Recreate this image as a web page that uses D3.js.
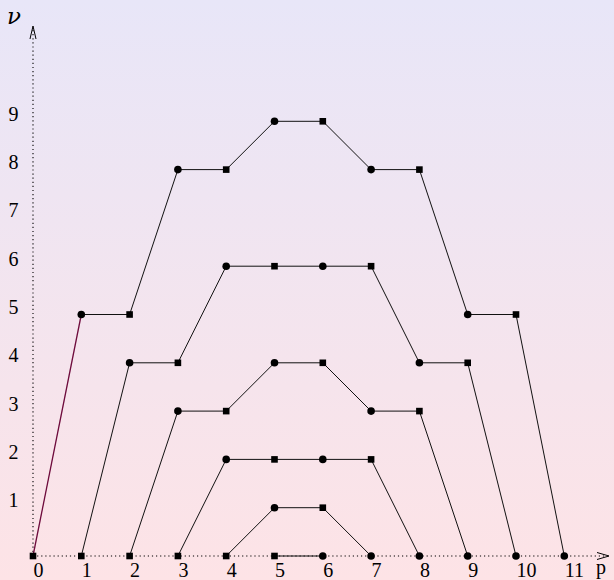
<!DOCTYPE html>
<html>
<head>
<meta charset="utf-8">
<script src="https://cdn.jsdelivr.net/npm/d3@7"></script>
<style>
  html, body { margin: 0; padding: 0; }
  svg { display: block; }
</style>
</head>
<body>
<svg id="chart" width="614" height="580"></svg>
<script>
// Tick values along each axis
const pTicks = [0, 1, 2, 3, 4, 5, 6, 7, 8, 9, 10, 11];
const nuTicks = [1, 2, 3, 4, 5, 6, 7, 8, 9];

// Each path starts at p = start and steps by 1 in p; values are ν
const path0 = { start: 0, nu: [0, 5, 5, 8, 8, 9, 9, 8, 8, 5, 5, 0] };
const path1 = { start: 1, nu: [0, 4, 4, 6, 6, 6, 6, 4, 4, 0] };
const path2 = { start: 2, nu: [0, 3, 3, 4, 4, 3, 3, 0] };
const path3 = { start: 3, nu: [0, 2, 2, 2, 2, 0] };
const path4 = { start: 4, nu: [0, 1, 1, 0] };
const path5 = { start: 5, nu: [0, 0] };
const paths = [path0, path1, path2, path3, path4, path5];

const svg = d3.select("#chart");
const W = 614, H = 580;

// background gradient, lavender above fading to pink below
const defs = svg.append("defs");
const grad = defs.append("linearGradient")
  .attr("id", "bg").attr("x1", 0).attr("y1", 0).attr("x2", 0).attr("y2", 1);
grad.append("stop").attr("offset", "0%").attr("stop-color", "#e8e6f8");
grad.append("stop").attr("offset", "100%").attr("stop-color", "#fde3e6");
svg.append("rect").attr("width", W).attr("height", H).attr("fill", "url(#bg)");

const x = d3.scaleLinear().domain([0, 11]).range([33, 564.3]);
const y = d3.scaleLinear().domain([0, 9]).range([556, 121.3]);

const serif = "'Liberation Serif', 'DejaVu Serif', serif";

// dotted axes
const ax = svg.append("g").attr("stroke", "#000").attr("fill", "none");
ax.append("line")
  .attr("x1", x(0)).attr("y1", y(0)).attr("x2", 605).attr("y2", y(0))
  .attr("stroke-width", 1.1).attr("stroke-dasharray", "1.2,2.9");
ax.append("line")
  .attr("x1", x(0)).attr("y1", y(0)).attr("x2", x(0)).attr("y2", 27)
  .attr("stroke-width", 1.1).attr("stroke-dasharray", "1.2,2.9");

// open arrowheads
ax.append("path")
  .attr("d", `M${x(0) - 3},39 L${x(0)},26 L${x(0) + 3},39`)
  .attr("stroke-width", 1);
ax.append("path")
  .attr("d", `M597,${y(0) - 3.5} L609,${y(0)} L597,${y(0) + 3.5}`)
  .attr("stroke-width", 1);

// tick labels
svg.append("g").selectAll("text").data(pTicks).join("text")
  .attr("x", d => x(d) + 0.5)
  .attr("y", 577)
  .attr("font-family", serif).attr("font-size", 20)
  .attr("text-anchor", "start")
  .text(d => d);

svg.append("g").selectAll("text").data(nuTicks).join("text")
  .attr("x", 18.5)
  .attr("y", d => y(d) - 0.5)
  .attr("font-family", serif).attr("font-size", 20)
  .attr("text-anchor", "end")
  .text(d => d);

// axis names
svg.append("text").attr("x", 596).attr("y", 574)
  .attr("font-family", serif).attr("font-size", 20).text("p");
svg.append("text").attr("x", 7).attr("y", 24)
  .attr("font-family", "'DejaVu Serif', serif").attr("font-size", 23)
  .attr("font-style", "italic").text("ν");

// segments of each path
const segs = [];
paths.forEach((pa, i) => {
  for (let k = 0; k < pa.nu.length - 1; k++) {
    segs.push({
      p0: pa.start + k, n0: pa.nu[k],
      p1: pa.start + k + 1, n1: pa.nu[k + 1],
      first: i === 0 && k === 0
    });
  }
});
svg.append("g").selectAll("line").data(segs).join("line")
  .attr("x1", d => x(d.p0)).attr("y1", d => y(d.n0))
  .attr("x2", d => x(d.p1)).attr("y2", d => y(d.n1))
  .attr("stroke", d => d.first ? "#6e0b3c" : "#111")
  .attr("stroke-width", d => d.first ? 1.3 : 1);

// markers: squares on even steps, dots on odd steps
const pts = [];
paths.forEach(pa => pa.nu.forEach((v, k) => pts.push({ p: pa.start + k, nu: v, sq: k % 2 === 0 })));

const mk = svg.append("g").attr("fill", "#000");
mk.selectAll("rect").data(pts.filter(d => d.sq)).join("rect")
  .attr("x", d => x(d.p) - 3.3).attr("y", d => y(d.nu) - 3.3)
  .attr("width", 6.6).attr("height", 6.6);
mk.selectAll("circle").data(pts.filter(d => !d.sq)).join("circle")
  .attr("cx", d => x(d.p)).attr("cy", d => y(d.nu)).attr("r", 3.8);
</script>
</body>
</html>
